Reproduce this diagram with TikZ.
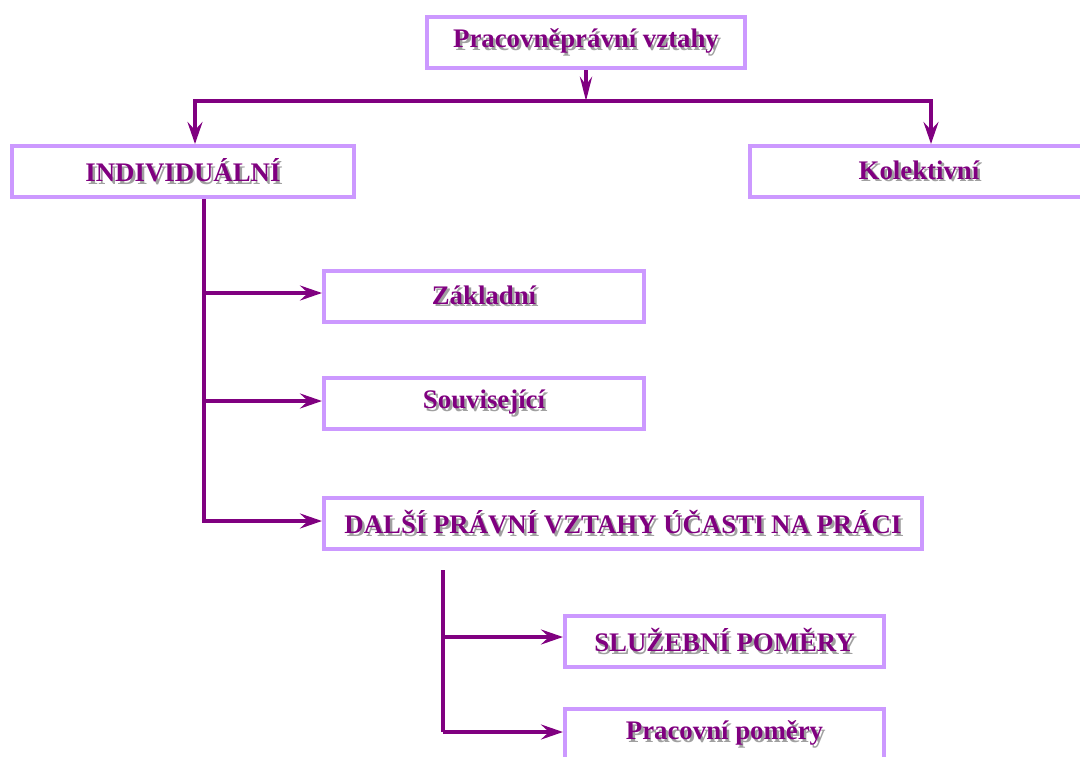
\documentclass[tikz,border=0pt]{standalone}
\usepackage{fontspec}
\setmainfont{Liberation Serif}
\usetikzlibrary{arrows.meta}
\definecolor{txtpurple}{HTML}{800080}
\definecolor{shgray}{HTML}{A0A0A0}
\definecolor{boxlilac}{HTML}{CC99FF}
\newcommand\shtxt[1]{\rlap{\kern2.5pt\raisebox{-2.5pt}{\textcolor{shgray}{#1}}}\textcolor{txtpurple}{#1}}
\tikzset{
  box/.style={draw=boxlilac, line width=4pt, fill=white, rectangle, inner sep=0pt,
    minimum height=51pt, font=\fontsize{26.8}{30}\selectfont\bfseries},
  conn/.style={draw=txtpurple, line width=4pt},
  arr/.style={conn, -{Stealth[length=22pt,width=15pt,inset=8pt]}}
}
\begin{document}
\begin{tikzpicture}[x=1pt,y=-1pt]
\useasboundingbox (0,0) rectangle (1080,756);
\node[box, minimum width=318pt] (top) at (586,42.5) {\shtxt{Pracovněprávní vztahy}};
\node[box, minimum width=342pt] (indiv) at (183,171.5) {\shtxt{INDIVIDUÁLNÍ}};
\node[box, minimum width=338pt] (kolek) at (919,171.5) {\shtxt{Kolektivní}};
\node[box, minimum width=320pt] (zakl) at (484,296.5) {\shtxt{Základní}};
\node[box, minimum width=320pt] (souv) at (484,403.5) {\shtxt{Související}};
\node[box, minimum width=598pt] (dalsi) at (623,523.5) {\shtxt{DALŠÍ PRÁVNÍ VZTAHY ÚČASTI NA PRÁCI}};
\node[box, minimum width=319pt] (sluz) at (724.5,641.5) {\shtxt{SLUŽEBNÍ POMĚRY}};
\node[box, minimum width=319pt] (prac) at (724.5,734.5) {\shtxt{Pracovní poměry}};
% top split
\coordinate (hm) at (586,101);
\coordinate (hl) at (195,101);
\coordinate (hr) at (931,101);
\draw[conn, -{Stealth[length=24pt,width=12pt,inset=8pt]}] (top.south) -- (hm);
\draw[conn, line cap=rect] (hl) -- (hr);
\draw[arr] (hl) -- (hl |- indiv.north);
\draw[arr] (hr) -- (hr |- kolek.north);
% individual trunk
\coordinate (t0) at (204,199);
\coordinate (b1) at (204,293);
\coordinate (b2) at (204,401);
\coordinate (b3) at (204,521);
\draw[conn] (t0) -- (b3);
\draw[arr] (b1) -- (b1 -| zakl.west);
\draw[arr] (b2) -- (b2 -| souv.west);
\draw[arr, line cap=rect] (b3) -- (b3 -| dalsi.west);
% second trunk
\coordinate (s0) at (443,570);
\coordinate (s1) at (443,637);
\coordinate (s2) at (443,732);
\draw[conn] (s0) -- (s2);
\draw[arr] (s1) -- (s1 -| sluz.west);
\draw[arr] (s2) -- (s2 -| prac.west);
\end{tikzpicture}
\end{document}
